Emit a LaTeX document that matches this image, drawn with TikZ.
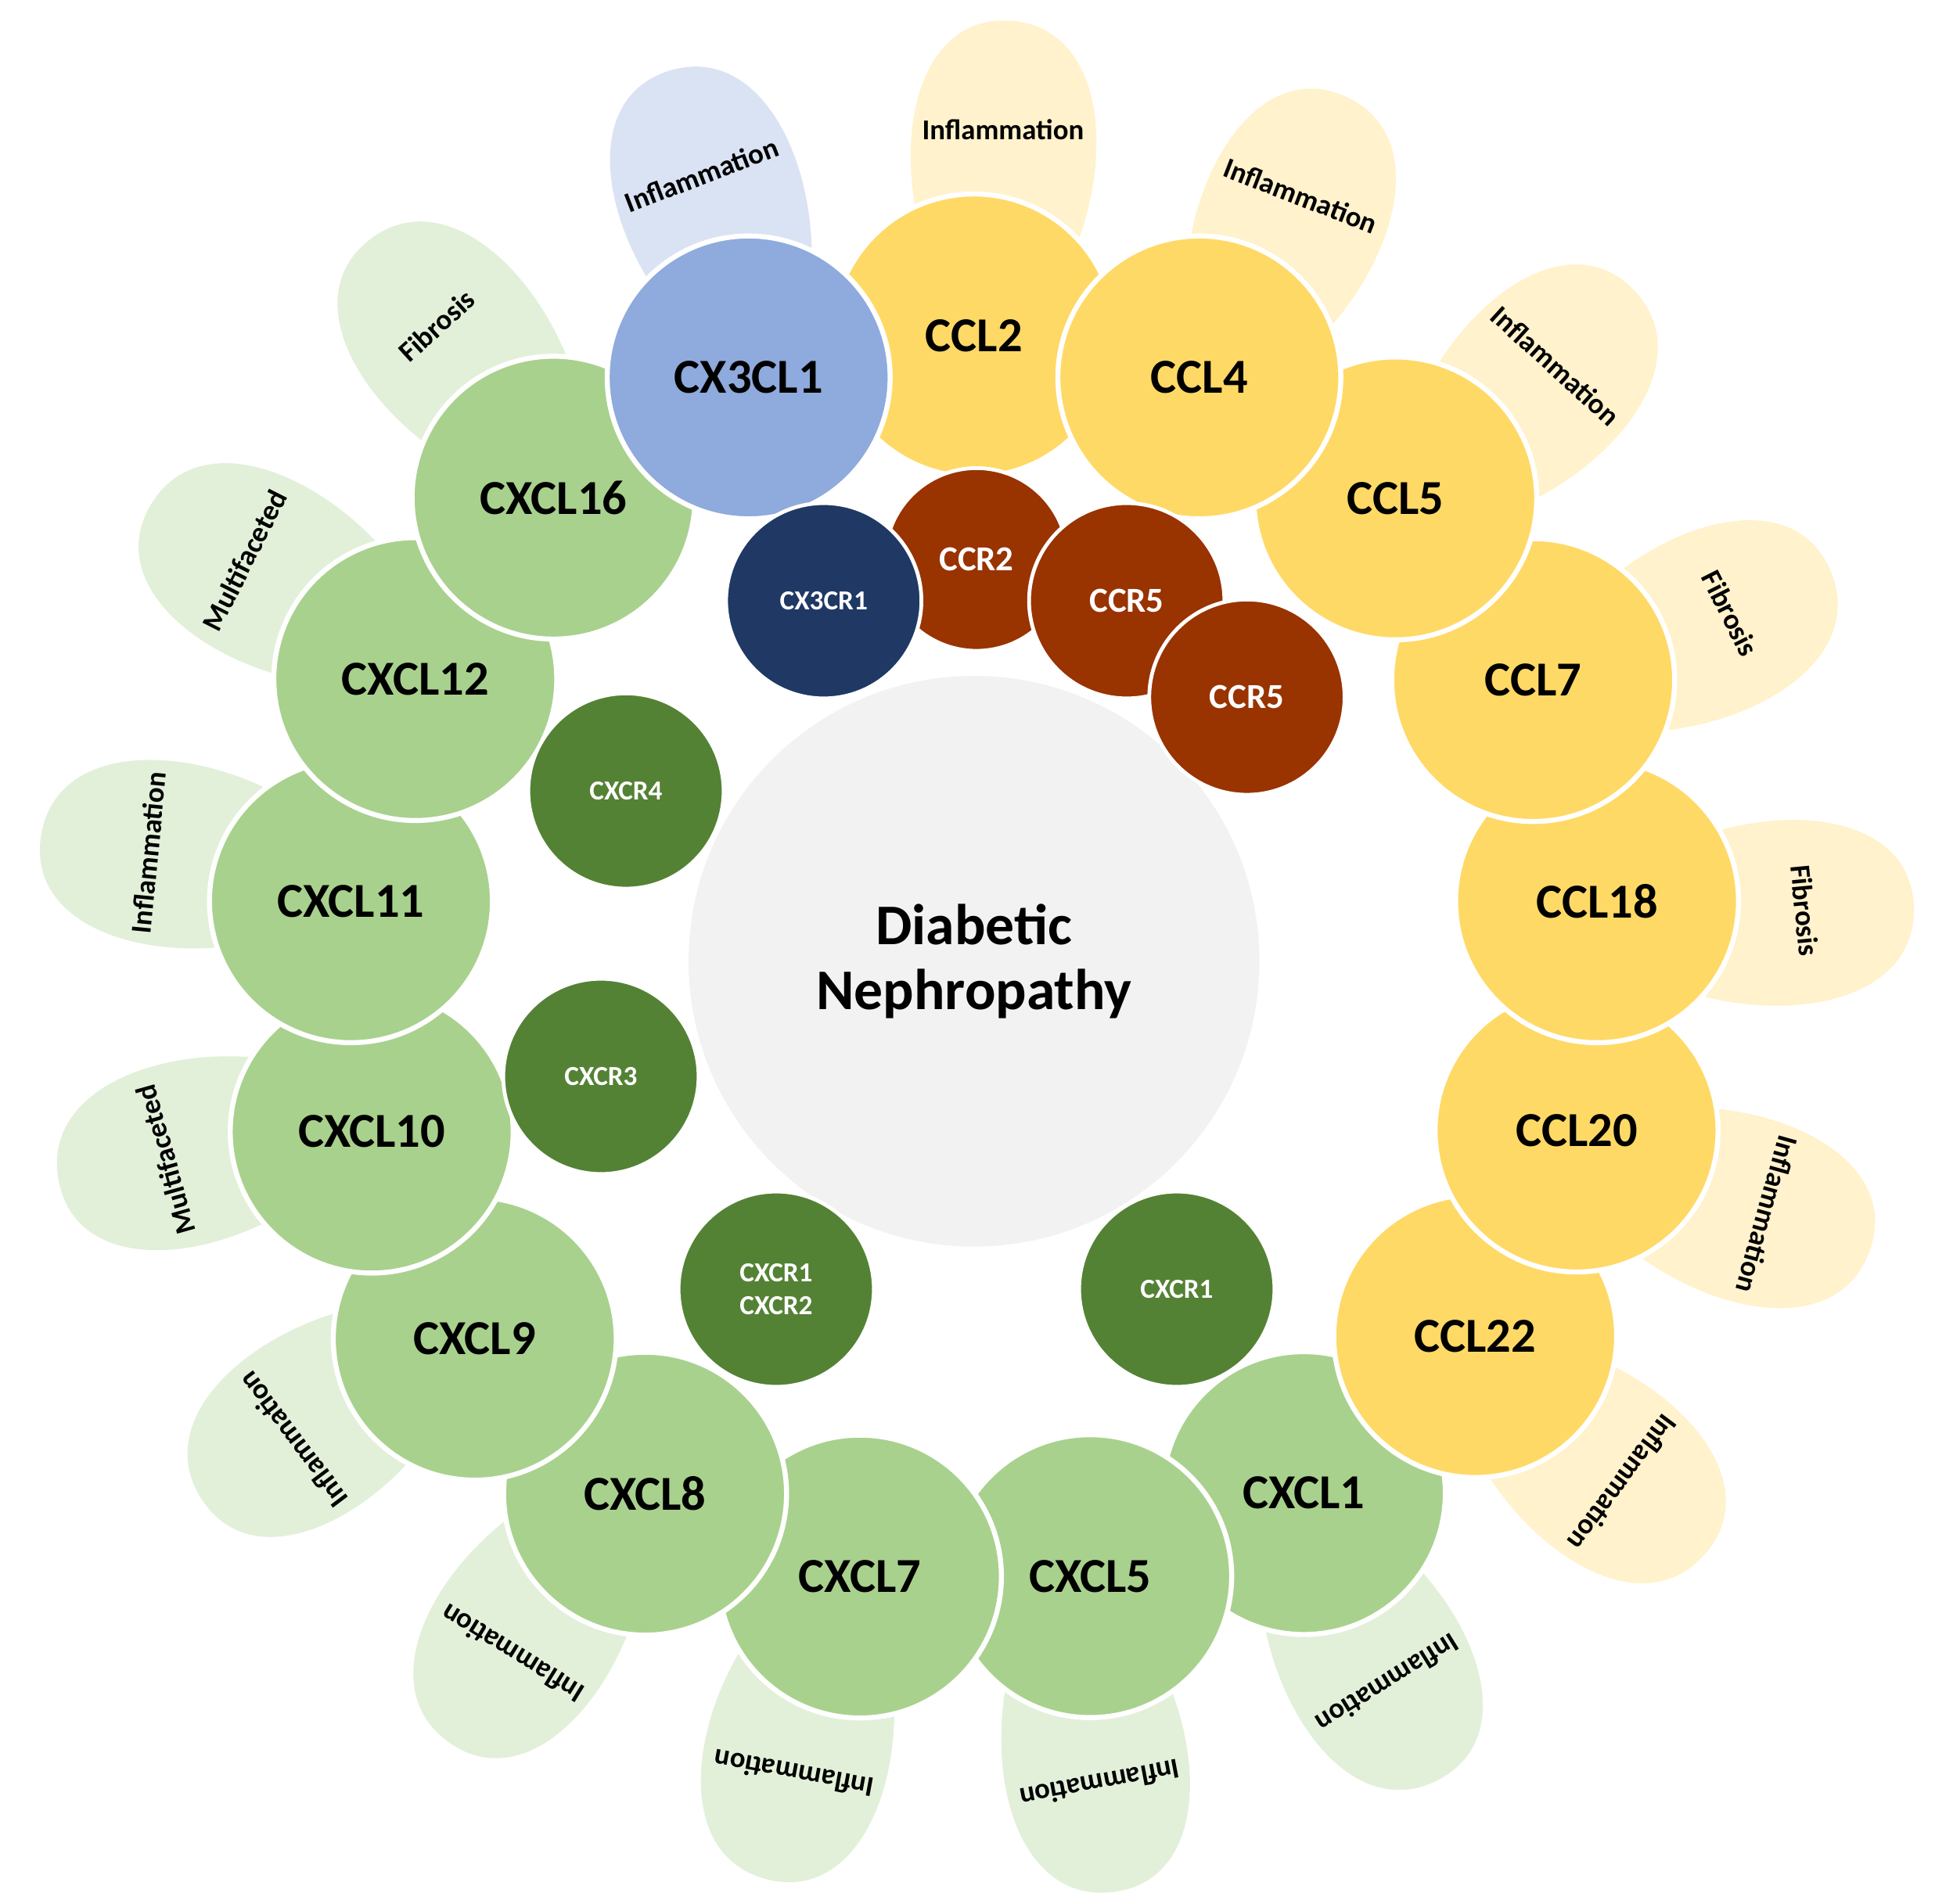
\documentclass[tikz,border=0pt]{standalone}
\usepackage{fontspec}
\setmainfont{Carlito}
\definecolor{blu}{HTML}{8FAADC}\definecolor{yel}{HTML}{FFD966}\definecolor{grn}{HTML}{A9D18E}
\definecolor{lblu}{HTML}{DAE3F3}\definecolor{lyel}{HTML}{FFF2CC}\definecolor{lgrn}{HTML}{E2F0D9}
\definecolor{navy}{HTML}{203864}\definecolor{brn}{HTML}{993300}\definecolor{dgrn}{HTML}{548235}
\begin{document}
\begin{tikzpicture}[x=1pt,y=1pt,
  outer/.style={circle,draw=white,line width=4pt,minimum size=226pt,inner sep=0pt,font=\fontsize{39}{40}\selectfont\bfseries},
  rec/.style={circle,draw=white,line width=3pt,minimum size=156pt,inner sep=0pt,text=white,font=\fontsize{22}{26}\selectfont\bfseries,align=center},
  plabel/.style={font=\fontsize{23}{25}\selectfont\bfseries}]
\useasboundingbox (-778,-753) rectangle (782,768);
% petals
\foreach \a/\c/\t [count=\i] in {111.1/lblu/Inflammation,90/lyel/Inflammation,68.9/lyel/Inflammation,47.7/lyel/Inflammation,26.7/lyel/Fibrosis,5.5/lyel/Fibrosis,-15.7/lyel/Inflammation,-36.8/lyel/Inflammation,-58.2/lgrn/Inflammation,-79.3/lgrn/Inflammation,-100.5/lgrn/Inflammation,-121.7/lgrn/Inflammation,-142.9/lgrn/Inflammation,-164.2/lgrn/Multifaceted,174.5/lgrn/Inflammation,153.2/lgrn/Multifaceted,132.2/lgrn/Fibrosis}{
  \begin{scope}[rotate=\a-2]
    \fill[\c] (480,0) .. controls (560,-95) and (752,-105) .. (752,0) .. controls (752,100) and (560,95) .. (480,0);
  \end{scope}
  \node[plabel,rotate=\a-90] (p\i) at (\a-2:665) {\t};
}
% outer circles
\foreach \a/\c/\t [count=\i] in {-58.2/grn/CXCL1,-79.3/grn/CXCL5,-100.5/grn/CXCL7,-121.7/grn/CXCL8,-142.9/grn/CXCL9,-164.2/grn/CXCL10,174.5/grn/CXCL11,153.2/grn/CXCL12,132.2/grn/CXCL16,-36.8/yel/CCL22,-15.7/yel/CCL20,5.5/yel/CCL18,26.7/yel/CCL7,47.7/yel/CCL5,90/yel/CCL2,68.9/yel/CCL4,111.1/blu/CX3CL1}{
  \node[outer,fill=\c] (o\i) at (\a:500) {\t};
}
\node[circle,fill=black!5,minimum size=456pt,inner sep=0pt,align=center,font=\fontsize{46}{52}\selectfont\bfseries] (dn) at (0,0) {Diabetic\\Nephropathy};
\node[rec,fill=brn,minimum size=146pt,font=\fontsize{28}{30}\selectfont\bfseries] (r2) at (2,321) {CCR2};
\node[rec,fill=navy] (r1) at (-120,288) {CX3CR1};
\node[rec,fill=brn,font=\fontsize{28}{30}\selectfont\bfseries] (r3) at (122,288) {CCR5};
\node[rec,fill=brn,font=\fontsize{28}{30}\selectfont\bfseries] (r4) at (218,211) {CCR5};
\node[rec,fill=dgrn] (r5) at (-278,136) {CXCR4};
\node[rec,fill=dgrn] (r6) at (-298,-92) {CXCR3};
\node[rec,fill=dgrn] (r7) at (-158,-262) {CXCR1\\CXCR2};
\node[rec,fill=dgrn] (r8) at (162,-262) {CXCR1};
\end{tikzpicture}
\end{document}
